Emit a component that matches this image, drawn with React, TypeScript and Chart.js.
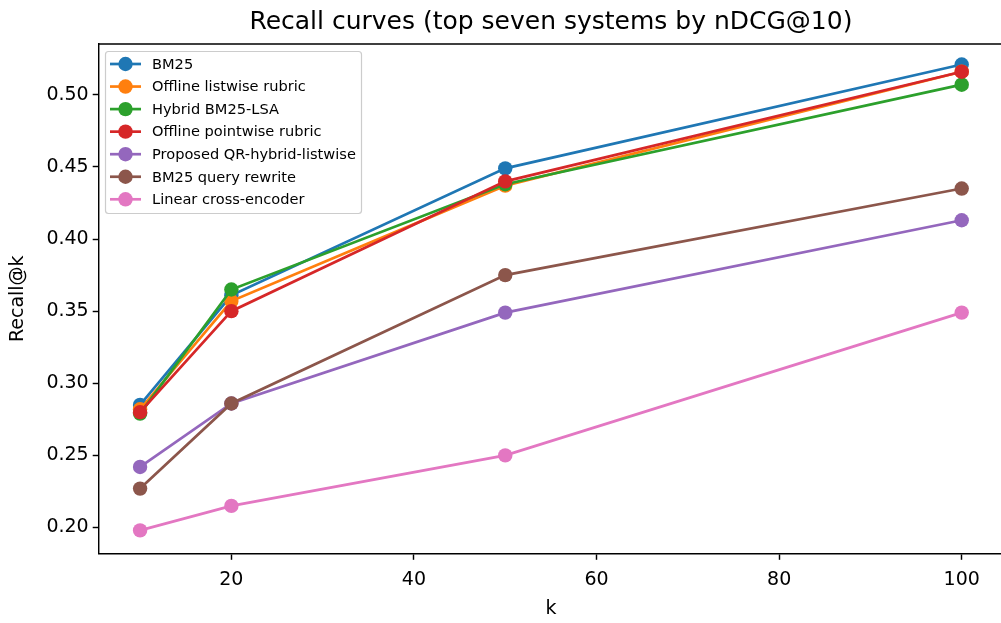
import React, { useEffect, useRef } from "react";
import { Chart, registerables } from "chart.js";

Chart.register(...registerables);

// ---- data ----
const kValues = [10, 20, 50, 100];
const seriesNames = [
  "BM25",
  "Offline listwise rubric",
  "Hybrid BM25-LSA",
  "Offline pointwise rubric",
  "Proposed QR-hybrid-listwise",
  "BM25 query rewrite",
  "Linear cross-encoder",
];
const bm25 = [0.285, 0.361, 0.449, 0.521];
const offlineListwise = [0.282, 0.357, 0.437, 0.516];
const hybridLsa = [0.279, 0.365, 0.438, 0.507];
const offlinePointwise = [0.28, 0.35, 0.44, 0.516];
const proposedQr = [0.242, 0.286, 0.349, 0.413];
const bm25Rewrite = [0.227, 0.286, 0.375, 0.435];
const linearCe = [0.198, 0.215, 0.25, 0.349];
const seriesValues = [bm25, offlineListwise, hybridLsa, offlinePointwise, proposedQr, bm25Rewrite, linearCe];
const seriesColors = ["#1f77b4", "#ff7f0e", "#2ca02c", "#d62728", "#9467bd", "#8c564b", "#e377c2"];
const xTicks = [20, 40, 60, 80, 100];
const yTicks = [0.2, 0.25, 0.3, 0.35, 0.4, 0.45, 0.5];
const titleText = "Recall curves (top seven systems by nDCG@10)";
const xTitle = "k";
const yTitle = "Recall@k";

const FONT = "'DejaVu Sans', sans-serif";
const LINE_W = 2.7;
const MARKER_R = 7.2;
const SPINE_W = 1.44;

const decorPlugin = {
  id: "decor",
  afterDatasetsDraw(chart: any) {
    const ctx = chart.ctx as CanvasRenderingContext2D;
    const ca = chart.chartArea;
    ctx.save();
    // top & right spines
    ctx.strokeStyle = "#000";
    ctx.lineWidth = SPINE_W;
    ctx.beginPath();
    ctx.moveTo(ca.left, ca.top);
    ctx.lineTo(ca.right, ca.top);
    ctx.lineTo(ca.right, ca.bottom);
    ctx.stroke();

    // legend
    const lx = ca.left + 6.5;
    const ly = ca.top + 7.5;
    const lw = 256;
    const lh = 162;
    ctx.beginPath();
    (ctx as any).roundRect(lx, ly, lw, lh, 3);
    ctx.fillStyle = "rgba(255,255,255,0.8)";
    ctx.fill();
    ctx.strokeStyle = "#cccccc";
    ctx.lineWidth = 1.2;
    ctx.stroke();
    ctx.font = `14.6px ${FONT}`;
    ctx.textAlign = "left";
    ctx.textBaseline = "middle";
    chart.data.datasets.forEach((ds: any, i: number) => {
      const y = ca.top + 20 + i * 22.55;
      ctx.strokeStyle = ds.borderColor;
      ctx.lineWidth = LINE_W;
      ctx.beginPath();
      ctx.moveTo(ca.left + 11, y);
      ctx.lineTo(ca.left + 42, y);
      ctx.stroke();
      ctx.fillStyle = ds.borderColor;
      ctx.beginPath();
      ctx.arc(ca.left + 26.5, y, MARKER_R, 0, Math.PI * 2);
      ctx.fill();
      ctx.fillStyle = "#000";
      ctx.fillText(ds.label, ca.left + 53, y + 1);
    });

    // title
    ctx.fillStyle = "#000";
    ctx.font = `25px ${FONT}`;
    ctx.textAlign = "center";
    ctx.textBaseline = "middle";
    ctx.fillText(titleText, (ca.left + ca.right) / 2, 22);
    ctx.restore();
  },
};

export default function App() {
  const ref = useRef<HTMLCanvasElement | null>(null);
  useEffect(() => {
    if (!ref.current) return;
    const n = seriesNames.length;
    const chart = new Chart(ref.current, {
      type: "line",
      data: {
        datasets: seriesNames.map((name, i) => ({
          label: name,
          data: kValues.map((k, j) => ({ x: k, y: seriesValues[i][j] })),
          borderColor: seriesColors[i],
          backgroundColor: seriesColors[i],
          pointBackgroundColor: seriesColors[i],
          pointBorderWidth: 0,
          pointRadius: MARKER_R,
          borderWidth: LINE_W,
          tension: 0,
          fill: false,
          order: n - i,
        })),
      },
      options: {
        animation: false,
        responsive: false,
        layout: { padding: { top: 44, right: 1, left: 0, bottom: 0 } },
        plugins: { legend: { display: false }, tooltip: { enabled: false }, title: { display: false } },
        scales: {
          x: {
            type: "linear",
            min: 5.5,
            max: 104.5,
            afterBuildTicks: (s: any) => {
              s.ticks = xTicks.map((v) => ({ value: v }));
            },
            afterFit: (s: any) => {
              s.height = 69.5;
            },
            grid: { display: true, drawOnChartArea: false, drawTicks: true, tickLength: 6.3, tickWidth: SPINE_W, tickColor: "#000" },
            border: { display: true, color: "#000", width: SPINE_W },
            ticks: {
              color: "#000",
              font: { family: FONT, size: 19 },
              padding: 8.5,
              maxRotation: 0,
              autoSkip: false,
              callback: (v: any) => String(v),
            },
            title: { display: true, text: xTitle, color: "#000", font: { family: FONT, size: 19 }, padding: { top: 0, bottom: 3 } },
          },
          y: {
            type: "linear",
            min: 0.182,
            max: 0.5352,
            afterBuildTicks: (s: any) => {
              s.ticks = yTicks.map((v) => ({ value: v }));
            },
            afterFit: (s: any) => {
              s.width = 99;
            },
            grid: { display: true, drawOnChartArea: false, drawTicks: true, tickLength: 6.3, tickWidth: SPINE_W, tickColor: "#000" },
            border: { display: true, color: "#000", width: SPINE_W },
            ticks: {
              color: "#000",
              font: { family: FONT, size: 19 },
              padding: 4,
              autoSkip: false,
              callback: (v: any) => Number(v).toFixed(2),
            },
            title: { display: true, text: yTitle, color: "#000", font: { family: FONT, size: 19 }, padding: { top: 7, bottom: 0 } },
          },
        },
      },
      plugins: [decorPlugin],
    });
    return () => chart.destroy();
  }, []);
  return (
    <div style={{ position: "fixed", left: 0, top: 0, width: 1010, height: 623, background: "#fff" }}>
      <canvas ref={ref} width={1010} height={623} style={{ display: "block" }} />
    </div>
  );
}
